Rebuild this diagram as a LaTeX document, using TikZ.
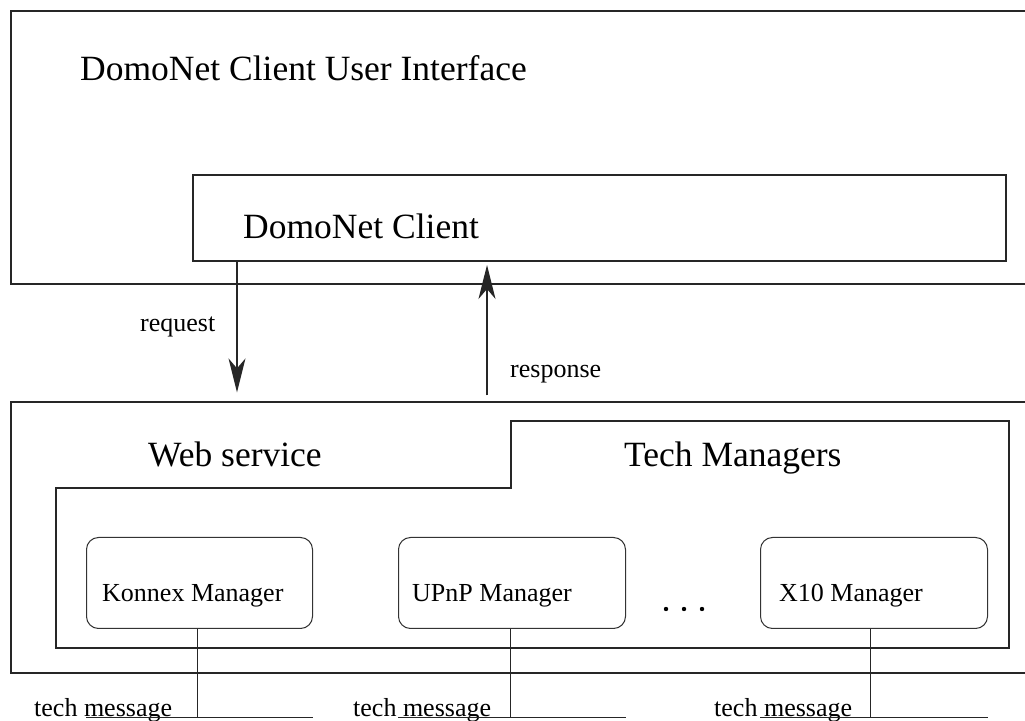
\documentclass[tikz,border=0pt]{standalone}
\usepackage{fontspec}
\setmainfont{Liberation Serif}
\usetikzlibrary{arrows.meta}
\begin{document}
\begin{tikzpicture}[x=1pt,y=1pt,
  frame/.style={draw=black!85, line width=1.6pt},
  mgrbox/.style={draw=black!80, line width=1pt, rounded corners=12pt, rectangle, inner sep=0pt},
  wire/.style={draw=black!85, line width=0.9pt},
  bigtxt/.style={anchor=base west, inner sep=0pt, font=\fontsize{35.5}{40}\selectfont},
  smalltxt/.style={anchor=base west, inner sep=0pt, font=\fontsize{26}{30}\selectfont},
  arr/.style={wire, line width=1.3pt, -{Stealth[length=34pt,width=17pt,inset=10pt]}}
]
\clip (0,0) rectangle (1025,720);
\fill[white] (0,0) rectangle (1025,720);
% outer boxes
\node[frame, rectangle, inner sep=0pt, minimum width=1025pt, minimum height=273pt, anchor=south west] (ui) at (10,435) {};
\node[frame, rectangle, inner sep=0pt, minimum width=813pt, minimum height=86pt, anchor=south west] (client) at (192,458) {};
\node[frame, rectangle, inner sep=0pt, minimum width=1025pt, minimum height=271pt, anchor=south west] (ws) at (10,46) {};
% inner step polygon
\draw[frame] (56,232) -- (511,232) -- (511,299) -- (1009,299) -- (1009,72) -- (56,72) -- cycle;
% manager boxes
\node[mgrbox, minimum width=226pt, minimum height=91pt, anchor=south west] (konnex) at (86,91) {};
\node[mgrbox, minimum width=227pt, minimum height=91pt, anchor=south west] (upnp) at (398,91) {};
\node[mgrbox, minimum width=227pt, minimum height=91pt, anchor=south west] (xten) at (760,91) {};
% texts
\node[bigtxt] (tui) at (80,639) {DomoNet Client User Interface};
\node[bigtxt] (tcl) at (243,481) {DomoNet Client};
\node[bigtxt] (tws) at (148,253) {Web service};
\node[bigtxt] (ttm) at (624,253) {Tech Managers};
\node[smalltxt] (tk) at (102,118) {Konnex Manager};
\node[smalltxt] (tu) at (412,118) {UPnP Manager};
\node[smalltxt] (tx) at (779,118) {X10 Manager};
\node[smalltxt] (treq) at (140,388) {request};
\node[smalltxt] (tres) at (510,342) {response};
\node[smalltxt] (m1) at (34,4) {tech message};
\node[smalltxt] (m2) at (353,4) {tech message};
\node[smalltxt] (m3) at (714,4) {tech message};
% dots
\foreach \dx/\nm in {666/d1,684/d2,702/d3} \fill (\dx,111) circle (2.2pt);
% request / response arrows
\coordinate (reqx) at (237,0);
\coordinate (resx) at (487,0);
\draw[arr] (client.south -| reqx) -- ([yshift=9pt]ws.north -| reqx);
\draw[arr] ([yshift=6pt]ws.north -| resx) -- ([yshift=-3pt]client.south -| resx);
% tech message lines
\coordinate (b1) at (197,3);
\coordinate (b2) at (510,3);
\coordinate (b3) at (870,3);
\draw[wire] (konnex.south -| b1) -- (b1);
\draw[wire] (upnp.south -| b2) -- (b2);
\draw[wire] (xten.south -| b3) -- (b3);
\draw[wire] (konnex.west |- b1) -- (konnex.east |- b1);
\draw[wire] (upnp.west |- b2) -- (upnp.east |- b2);
\draw[wire] (xten.west |- b3) -- (xten.east |- b3);
\end{tikzpicture}
\end{document}
